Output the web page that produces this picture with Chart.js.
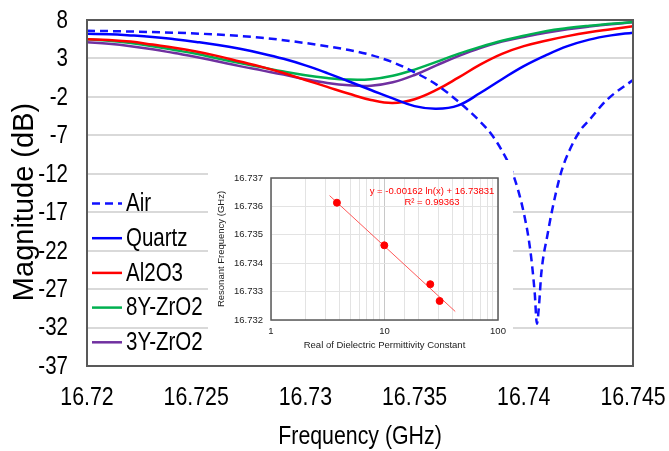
<!DOCTYPE html>
<html>
<head>
<meta charset="utf-8">
<script src="https://cdn.jsdelivr.net/npm/chart.js@4.4.0/dist/chart.umd.min.js"></script>
<style>
  html, body { margin: 0; padding: 0; background: #fff; }
  #wrap { position: relative; width: 669px; height: 451px; overflow: hidden; }
  #mainChart { position: absolute; left: 0; top: 0; }
  #insetBox { position: absolute; left: 208px; top: 160px; width: 305px; height: 200px; background: #fff; }
</style>
</head>
<body>
<div id="wrap">
  <canvas id="mainChart" width="669" height="451"></canvas>
  <div id="insetBox"><canvas id="insetChart" width="305" height="200"></canvas></div>
</div>
<script>
// Main plot: S21 magnitude vs frequency
const freq = [16.720, 16.721, 16.722, 16.723, 16.724, 16.725, 16.726, 16.727, 16.728, 16.729,
              16.730, 16.731, 16.732, 16.733, 16.734, 16.735, 16.736, 16.737, 16.738, 16.739,
              16.740, 16.741, 16.742, 16.743, 16.744, 16.745];
const quartz = [6.2, 6.15, 6.0, 5.8, 5.5, 5.15, 4.75, 4.25, 3.65, 2.95, 2.1, 1.1, 0.0, -1.1, -2.2, -3.2,
                -3.55, -3.1, -1.5, 0.3, 2.0, 3.4, 4.6, 5.45, 6.0, 6.35];
const al2o3 = [5.5, 5.4, 5.2, 4.8, 4.4, 3.9, 3.3, 2.6, 1.9, 1.1, 0.2, -0.7, -1.6, -2.4, -2.8, -2.3,
               -1.1, 0.5, 2.2, 3.6, 4.6, 5.3, 5.9, 6.4, 6.8, 7.2];
const zro2_8y = [5.5, 5.3, 5.0, 4.6, 4.1, 3.6, 3.0, 2.4, 1.85, 1.3, 0.8, 0.45, 0.25, 0.3, 0.75, 1.55,
                 2.55, 3.6, 4.5, 5.3, 5.95, 6.55, 6.95, 7.25, 7.5, 7.75];
const zro2_3y = [5.1, 4.9, 4.6, 4.2, 3.7, 3.2, 2.6, 2.0, 1.45, 0.9, 0.3, -0.2, -0.5, -0.55, -0.1, 0.85,
                 2.1, 3.3, 4.35, 5.2, 5.8, 6.35, 6.8, 7.15, 7.45, 7.7];

// Air (empty cavity) has a sharp resonance, sampled more densely
const airFreq = [16.720, 16.722, 16.724, 16.726, 16.728, 16.730, 16.732, 16.733, 16.734, 16.735,
                 16.736, 16.737, 16.738, 16.7385, 16.739, 16.7395, 16.740, 16.7403, 16.7405, 16.7406,
                 16.7407, 16.7408, 16.7411, 16.7413, 16.7417, 16.7421, 16.7426, 16.743, 16.7438, 16.745];
const airMag = [6.6, 6.5, 6.35, 6.1, 5.7, 5.0, 4.1, 3.45, 2.5, 1.2,
                -0.4, -2.6, -5.2, -6.8, -9.0, -12.0, -17.1, -22.0, -27.5, -31.5,
                -29.0, -25.0, -19.7, -16.7, -11.9, -8.9, -6.3, -5.0, -2.4, 0.2];

const xTicks = [16.72, 16.725, 16.73, 16.735, 16.74, 16.745];
const yTicks = [8, 3, -2, -7, -12, -17, -22, -27, -32, -37];

// Inset: resonant frequency vs permittivity (log x)
const permittivity = [3.81, 9.96, 25.3, 30.6];
const resFreq = [16.73613, 16.73463, 16.73326, 16.73267];
const trendX = [3.28, 42];
const trendY = [16.73638, 16.73230];
const insetYTicks = [16.732, 16.7325, 16.733, 16.7335, 16.734, 16.7345, 16.735, 16.7355, 16.736, 16.7365, 16.737];
const insetXLabels = [1, 10, 100];

const SANS = '"Liberation Sans", Arial, sans-serif';

function pts(xs, ys) { return xs.map((x, i) => ({ x: x, y: ys[i] })); }

// Arial Narrow look-alike: squeeze Liberation Sans horizontally
function narrowText(ctx, text, x, y, size, align, rot) {
  ctx.save();
  ctx.translate(x, y);
  if (rot) ctx.rotate(rot);
  ctx.scale(0.82, 1);
  ctx.font = size + 'px ' + SANS;
  ctx.fillStyle = '#000';
  ctx.textAlign = align;
  ctx.textBaseline = 'middle';
  ctx.fillText(text, 0, 0);
  ctx.restore();
}

// frame around the plot area
const framePlugin = {
  id: 'frame',
  afterDatasetsDraw(chart, args, opts) {
    const a = chart.chartArea, ctx = chart.ctx;
    ctx.save();
    ctx.strokeStyle = opts.color || '#595959';
    ctx.lineWidth = opts.width || 2;
    ctx.strokeRect(a.left, a.top, a.right - a.left, a.bottom - a.top);
    ctx.restore();
  }
};

// tick labels, axis titles and legend of the main plot
const mainText = {
  id: 'mainText',
  afterDraw(chart) {
    const ctx = chart.ctx, xs = chart.scales.x, ys = chart.scales.y;
    yTicks.forEach(v => narrowText(ctx, String(v), 68, ys.getPixelForValue(v) + 1, 25, 'right'));
    xTicks.forEach(v => narrowText(ctx, String(v), xs.getPixelForValue(v), 398, 26, 'center'));
    narrowText(ctx, 'Frequency (GHz)', (xs.left + xs.right) / 2, 437, 26, 'center');

    ctx.save();
    ctx.translate(25, 202);
    ctx.rotate(-Math.PI / 2);
    ctx.font = '29px ' + SANS;
    ctx.fillStyle = '#000';
    ctx.textAlign = 'center';
    ctx.textBaseline = 'middle';
    ctx.fillText('Magnitude (dB)', 0, 0);
    ctx.restore();

    chart.data.datasets.forEach((ds, i) => {
      const y = 203.5 + i * 34.7;
      ctx.save();
      ctx.strokeStyle = ds.borderColor;
      ctx.lineWidth = ds.borderWidth;
      ctx.setLineDash(ds.borderDash || []);
      ctx.beginPath();
      ctx.moveTo(92, y);
      ctx.lineTo(122, y);
      ctx.stroke();
      ctx.restore();
      narrowText(ctx, ds.label, 126, y + 1, 25, 'left');
    });
  }
};

new Chart(document.getElementById('mainChart'), {
  type: 'line',
  data: {
    datasets: [
      { label: 'Air', data: pts(airFreq, airMag), borderColor: '#1010ff', borderWidth: 2.5, borderDash: [8, 5],
        cubicInterpolationMode: 'monotone' },
      { label: 'Quartz', data: pts(freq, quartz), borderColor: '#0000ff', borderWidth: 2.5, tension: 0.4 },
      { label: 'Al2O3', data: pts(freq, al2o3), borderColor: '#ff0000', borderWidth: 2.5, tension: 0.4 },
      { label: '8Y-ZrO2', data: pts(freq, zro2_8y), borderColor: '#00b050', borderWidth: 2.5, tension: 0.4 },
      { label: '3Y-ZrO2', data: pts(freq, zro2_3y), borderColor: '#7030a0', borderWidth: 2.5, tension: 0.4 }
    ]
  },
  options: {
    responsive: false,
    animation: false,
    elements: { point: { radius: 0 } },
    layout: { padding: { top: 20, right: 36, left: 0, bottom: 0 } },
    plugins: { legend: { display: false }, tooltip: { enabled: false }, frame: { color: '#595959', width: 2 } },
    scales: {
      x: {
        type: 'linear', min: 16.72, max: 16.745,
        afterBuildTicks: s => { s.ticks = xTicks.map(v => ({ value: v })); },
        afterFit: s => { s.height = 85; },
        grid: { display: false, drawTicks: false },
        border: { display: false },
        ticks: { display: false }
      },
      y: {
        min: -37, max: 8,
        afterBuildTicks: s => { s.ticks = yTicks.map(v => ({ value: v })); },
        afterFit: s => { s.width = 87; },
        grid: { color: '#d9d9d9', lineWidth: 2, drawTicks: false },
        border: { display: false },
        ticks: { display: false }
      }
    }
  },
  plugins: [framePlugin, mainText]
});

// equation label for the inset trendline
const eqPlugin = {
  id: 'eqLabel',
  afterDraw(chart) {
    const ctx = chart.ctx;
    ctx.save();
    ctx.fillStyle = '#ff0000';
    ctx.font = '9.5px ' + SANS;
    ctx.textAlign = 'center';
    ctx.textBaseline = 'middle';
    ctx.fillText('y = -0.00162 ln(x) + 16.73831', 224, 31);
    ctx.fillText('R² = 0.99363', 224, 42);
    ctx.restore();
  }
};

new Chart(document.getElementById('insetChart'), {
  type: 'scatter',
  data: {
    datasets: [
      { label: 'data', data: pts(permittivity, resFreq), backgroundColor: '#ff0000', borderColor: '#ff0000',
        pointRadius: 3.5 },
      { type: 'line', label: 'trend', data: pts(trendX, trendY), borderColor: 'rgba(255,60,60,0.85)',
        borderWidth: 1, pointRadius: 0 }
    ]
  },
  options: {
    responsive: false,
    animation: false,
    layout: { padding: { top: 18, right: 15, left: 0, bottom: 0 } },
    plugins: { legend: { display: false }, tooltip: { enabled: false }, frame: { color: '#595959', width: 1.5 } },
    scales: {
      x: {
        type: 'logarithmic', min: 1, max: 100,
        afterFit: s => { s.height = 40; },
        grid: { color: c => (c.tick && c.tick.value === 10) ? '#c8c8c8' : '#e3e3e3', lineWidth: 1, drawTicks: false },
        border: { display: false },
        ticks: { padding: 6, color: '#222', autoSkip: false, maxRotation: 0, font: { family: SANS, size: 9.5 },
                 callback: v => insetXLabels.includes(v) ? String(v) : '' },
        title: { display: true, text: 'Real of Dielectric Permittivity Constant', color: '#222',
                 font: { family: SANS, size: 9.5 }, padding: { top: 0, bottom: 9 } }
      },
      y: {
        min: 16.732, max: 16.737,
        afterBuildTicks: s => { s.ticks = insetYTicks.map(v => ({ value: v })); },
        afterFit: s => { s.width = 63; },
        grid: { color: '#e3e3e3', lineWidth: 1, drawTicks: false },
        border: { display: false },
        ticks: { padding: 8, color: '#222', font: { family: SANS, size: 9.5 },
                 callback: v => String(parseFloat(v.toFixed(4))) },
        title: { display: true, text: 'Resonant Frequency (GHz)', color: '#222',
                 font: { family: SANS, size: 9.5 }, padding: { top: 8, bottom: 0 } }
      }
    }
  },
  plugins: [framePlugin, eqPlugin]
});
</script>
</body>
</html>
